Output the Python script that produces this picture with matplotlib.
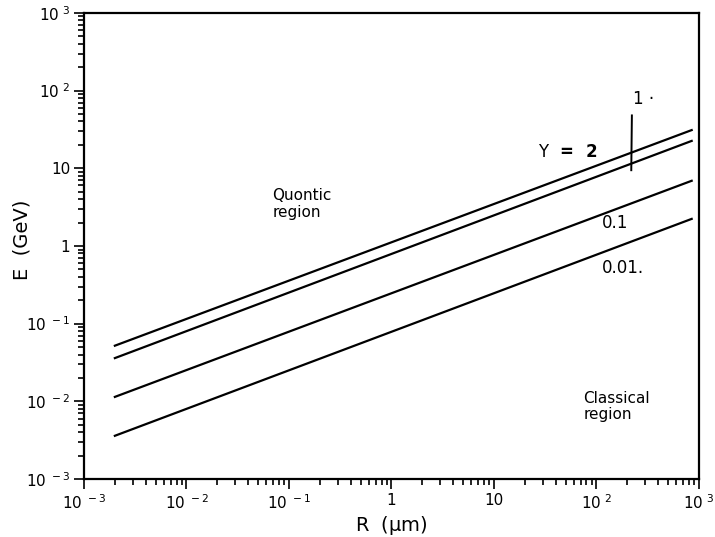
import matplotlib
matplotlib.use('Agg')
import matplotlib.pyplot as plt
from matplotlib.ticker import LogLocator, FixedFormatter, NullFormatter

# R range of the curves (um)
r_vals = [2e-3, 850]

# E (GeV) at the two ends, one list per Upsilon value
e_ups2 = [0.052, 31.0]
e_ups1 = [0.036, 22.5]
e_ups01 = [0.0114, 6.9]
e_ups001 = [0.0036, 2.23]

decade_ticks = [1e-3, 1e-2, 1e-1, 1, 10, 1e2, 1e3]
decade_labels = [r'10$^{\ -3}$', r'10$^{\ -2}$', r'10$^{\ -1}$', '1', '10',
                 r'10$^{\ 2}$', r'10$^{\ 3}$']

fig = plt.figure(figsize=(7.15, 5.37), dpi=100)
ax = fig.add_axes([0.1175, 0.108, 0.860, 0.868])

for e in (e_ups2, e_ups1, e_ups01, e_ups001):
    ax.plot(r_vals, e, color='black', lw=1.6)

ax.set_xscale('log')
ax.set_yscale('log')
ax.set_xlim(1e-3, 1e3)
ax.set_ylim(1e-3, 1e3)

ax.set_xticks(decade_ticks)
ax.set_yticks(decade_ticks)
ax.xaxis.set_major_formatter(FixedFormatter(decade_labels))
ax.yaxis.set_major_formatter(FixedFormatter(decade_labels))
ax.xaxis.set_minor_locator(LogLocator(base=10, subs=range(2, 10), numticks=20))
ax.yaxis.set_minor_locator(LogLocator(base=10, subs=range(2, 10), numticks=20))
ax.xaxis.set_minor_formatter(NullFormatter())
ax.yaxis.set_minor_formatter(NullFormatter())

ax.tick_params(which='both', direction='out', top=False, right=False,
               width=1.2, labelsize=11)
ax.tick_params(which='major', length=7, pad=3)
ax.tick_params(which='minor', length=4)
for s in ax.spines.values():
    s.set_linewidth(1.6)

ax.set_xlabel(r'R  ($\mathrm{\mu}$m)', fontsize=14, labelpad=2)
ax.set_ylabel('E  (GeV)', fontsize=14)
ax.yaxis.set_label_coords(-0.085, 0.513)

# curve labels (placed in axes-fraction coordinates)
ax.text(0.738, 0.702, r'$\Upsilon$  =  2', fontsize=12, fontweight='bold',
        transform=ax.transAxes, va='center')
ax.text(0.892, 0.815, '1 ·', fontsize=12, transform=ax.transAxes, va='center')
ax.plot([0.891, 0.890], [0.780, 0.6625], color='black', lw=1.4,
        transform=ax.transAxes)
ax.text(0.842, 0.550, '0.1', fontsize=12, transform=ax.transAxes, va='center')
ax.text(0.842, 0.453, '0.01.', fontsize=12, transform=ax.transAxes, va='center')

ax.text(0.306, 0.590, 'Quontic\nregion', fontsize=11, transform=ax.transAxes,
        va='center', ha='left', linespacing=1.1)
ax.text(0.812, 0.155, 'Classical\nregion', fontsize=11, transform=ax.transAxes,
        va='center', ha='left', linespacing=1.1)

fig.savefig('out.png', dpi=100)
